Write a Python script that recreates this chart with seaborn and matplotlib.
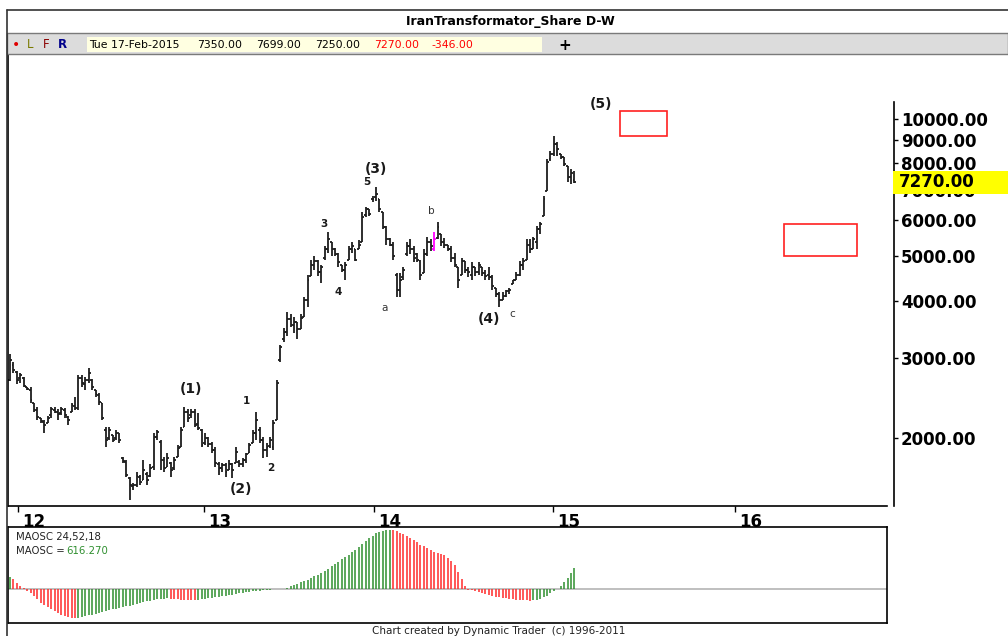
import matplotlib
matplotlib.use("Agg")
import matplotlib.pyplot as plt
import matplotlib.transforms as mtransforms
from matplotlib.lines import Line2D
from matplotlib.patches import Rectangle
from matplotlib.ticker import FixedLocator, NullLocator
import numpy as np
import seaborn as sns

# weekly OHLC bars, oldest first; the last one is Tue 17-Feb-2015
bar_open = [
    2680, 2890, 2790, 2710, 2710, 2590, 2550, 2390, 2300, 2210,
    2170, 2160, 2240, 2300, 2280, 2270, 2300, 2220, 2280, 2350,
    2330, 2710, 2630, 2680, 2680, 2550, 2490, 2390, 2080, 2000,
    2030, 2000, 2050, 1810, 1770, 1630, 1570, 1580, 1640, 1620,
    1670, 1650, 1730, 2010, 1960, 1790, 1730, 1760, 1720, 1820,
    1910, 2110, 2280, 2240, 2280, 2150, 2080, 1950, 2000, 1940,
    1880, 1750, 1720, 1740, 1700, 1750, 1760, 1770, 1750, 1790,
    1850, 1950, 2050, 2080, 1980, 1880, 1920, 1910, 2190, 2970,
    3290, 3420, 3640, 3540, 3600, 3460, 3690, 4020, 4520, 4800,
    4880, 4630, 4970, 5180, 5370, 5180, 5050, 4800, 4680, 4920,
    5180, 5180, 5180, 5370, 6180, 6340, 6670, 6740, 6670, 6250,
    5790, 5450, 5310, 4560, 4230, 4500, 5050, 5260, 5180, 5050,
    4880, 4610, 5050, 5390, 5180, 5500, 5590, 5370, 5310, 5180,
    4970, 4730, 4560, 4880, 4680, 4560, 4730, 4630, 4730, 4590,
    4560, 4500, 4270, 4130, 4020, 4100, 4190, 4340, 4450, 4560,
    4800, 4920, 5310, 5180, 5390, 5730, 6120, 6950, 8170, 8380,
    8810, 8380, 8250, 7880, 7460, 7350,
]
bar_high = [
    3050, 2940, 2800, 2780, 2720, 2590, 2580, 2390, 2340, 2210,
    2190, 2230, 2340, 2340, 2310, 2340, 2330, 2230, 2390, 2460,
    2750, 2750, 2720, 2840, 2690, 2550, 2510, 2390, 2110, 2110,
    2030, 2080, 2050, 1820, 1790, 1640, 1590, 1680, 1660, 1790,
    1680, 1750, 2050, 2080, 1980, 1820, 1850, 1770, 1820, 1930,
    2110, 2340, 2310, 2310, 2310, 2270, 2090, 2050, 2010, 1960,
    1910, 1770, 1760, 1760, 1790, 1760, 1910, 1790, 1810, 1850,
    1950, 2080, 2280, 2110, 2010, 1950, 2010, 2190, 2680, 3200,
    3490, 3770, 3730, 3690, 3600, 3730, 4080, 4560, 4920, 5000,
    4920, 4800, 5260, 5670, 5370, 5230, 5100, 4800, 4850, 5260,
    5370, 5180, 5420, 6250, 6410, 6340, 6770, 7090, 6670, 6250,
    5820, 5500, 5370, 4610, 4610, 4750, 5370, 5450, 5260, 5100,
    4920, 5180, 5530, 5450, 5670, 5940, 5590, 5500, 5310, 5260,
    5100, 4750, 4970, 4880, 4750, 4850, 4750, 4850, 4730, 4680,
    4750, 4560, 4270, 4170, 4170, 4230, 4270, 4450, 4630, 4880,
    4970, 5450, 5450, 5530, 5820, 5940, 6770, 8170, 8510, 9180,
    8900, 8380, 8250, 7880, 7770, 7699,
]
bar_low = [
    2660, 2780, 2620, 2640, 2590, 2550, 2390, 2280, 2190, 2160,
    2050, 2160, 2210, 2270, 2190, 2250, 2210, 2140, 2280, 2300,
    2300, 2590, 2550, 2640, 2550, 2460, 2360, 2190, 1910, 1980,
    1960, 1980, 1950, 1760, 1640, 1460, 1540, 1560, 1580, 1620,
    1580, 1640, 1700, 1980, 1700, 1680, 1730, 1640, 1700, 1820,
    1910, 2110, 2170, 2210, 2110, 2080, 1910, 1930, 1910, 1850,
    1730, 1660, 1680, 1640, 1700, 1630, 1760, 1730, 1730, 1760,
    1850, 1950, 1980, 1950, 1810, 1820, 1900, 1880, 2190, 2940,
    3250, 3340, 3510, 3400, 3290, 3460, 3690, 3880, 4520, 4680,
    4520, 4380, 4920, 5100, 5000, 5000, 4750, 4630, 4450, 4920,
    5100, 4880, 5180, 5370, 6090, 6120, 6570, 6600, 6250, 5730,
    5310, 5260, 4920, 4080, 4080, 4450, 5000, 5050, 4850, 4850,
    4450, 4610, 5000, 5130, 5130, 5450, 5260, 5230, 5130, 4850,
    4730, 4270, 4560, 4610, 4500, 4450, 4520, 4560, 4520, 4450,
    4450, 4230, 4080, 3880, 4020, 4080, 4130, 4340, 4450, 4520,
    4680, 4920, 5100, 5180, 5180, 5590, 6120, 6950, 8090, 8290,
    8290, 8170, 7880, 7270, 7200, 7250,
]
bar_close = [
    2970, 2820, 2680, 2750, 2600, 2560, 2420, 2300, 2220, 2180,
    2140, 2210, 2320, 2280, 2260, 2320, 2240, 2190, 2360, 2330,
    2710, 2640, 2680, 2770, 2580, 2500, 2400, 2210, 1980, 2080,
    1980, 2050, 1980, 1780, 1660, 1580, 1580, 1650, 1600, 1700,
    1620, 1720, 2010, 2060, 1790, 1720, 1810, 1700, 1790, 1900,
    2080, 2280, 2210, 2280, 2140, 2100, 1930, 2000, 1940, 1880,
    1760, 1720, 1740, 1680, 1750, 1700, 1860, 1750, 1790, 1840,
    1930, 2050, 2190, 1980, 1880, 1910, 1980, 2160, 2640, 3160,
    3420, 3640, 3540, 3600, 3460, 3670, 4020, 4450, 4800, 4880,
    4630, 4730, 5180, 5450, 5180, 5050, 4850, 4680, 4800, 5180,
    5260, 4920, 5310, 6090, 6340, 6210, 6700, 6840, 6340, 5790,
    5450, 5310, 5000, 4230, 4450, 4680, 5260, 5180, 4970, 4920,
    4560, 5050, 5390, 5260, 5450, 5790, 5370, 5310, 5180, 4970,
    4800, 4450, 4880, 4680, 4630, 4730, 4630, 4780, 4590, 4540,
    4500, 4300, 4130, 4020, 4100, 4190, 4230, 4430, 4560, 4800,
    4880, 5310, 5180, 5450, 5730, 5880, 6670, 8040, 8380, 8810,
    8590, 8250, 7960, 7460, 7616, 7270,
]
highlight_bar = 124

# MAOSC 24,52,18 histogram, one value per bar
maosc = [
    342, 283, 186, 88, 20, -49, -127, -205, -303, -400,
    -469, -537, -596, -655, -713, -762, -801, -830, -850, -860,
    -840, -821, -791, -772, -752, -733, -713, -684, -655, -625,
    -596, -576, -547, -528, -508, -489, -469, -440, -410, -381,
    -361, -342, -322, -303, -293, -283, -274, -283, -293, -303,
    -313, -322, -322, -332, -332, -322, -303, -283, -264, -254,
    -234, -225, -205, -195, -176, -166, -147, -127, -107, -98,
    -88, -68, -59, -49, -39, -29, -20, -10, -5, 0,
    10, 39, 78, 117, 156, 195, 234, 273, 322, 371,
    420, 479, 537, 596, 664, 733, 801, 870, 938, 1006,
    1075, 1153, 1231, 1309, 1397, 1485, 1563, 1632, 1680, 1710,
    1729, 1739, 1720, 1690, 1641, 1602, 1553, 1505, 1446, 1378,
    1299, 1251, 1192, 1143, 1094, 1065, 1036, 987, 918, 821,
    703, 508, 283, 88, -20, -39, -59, -78, -107, -137,
    -166, -195, -225, -244, -264, -274, -293, -303, -313, -322,
    -332, -332, -342, -332, -322, -293, -244, -195, -127, -49,
    10, 88, 205, 332, 459, 616.27,
]

year_labels = ["12", "13", "14", "15", "16"]
year_start_bar = [2.3, 56.7, 106.4, 158.8, 212.0]
price_ticks = [2000, 3000, 4000, 5000, 6000, 7000, 8000, 9000, 10000]

# Elliott wave labels: text, bar position, price, major?
wave_text = ["(1)", "(2)", "(3)", "(4)", "(5)", "1", "2", "3", "4", "5", "a", "b", "c"]
wave_bar = [52.9, 67.5, 107.0, 140.0, 172.8, 69.0, 76.3, 91.8, 95.9, 104.4, 109.6, 123.1, 146.8]
wave_price = [2565, 1546, 7765, 3653, 10790, 2412, 1718, 5878, 4188, 7270, 3862, 6279, 3746]
wave_major = [True] * 5 + [False] * 8

# target zones (bar from, bar to, price low, price high)
zone_bar_from = [178.4, 226.3]
zone_bar_to = [192.1, 247.7]
zone_low = [9200, 5000]
zone_high = [10400, 5900]

sns.set_theme(style="white", rc={
    "axes.edgecolor": "black", "text.color": "black",
    "xtick.color": "black", "ytick.color": "black",
    "axes.linewidth": 1.2,
})
plt.rcParams["font.family"] = ["DejaVu Sans"]

W, H = 1008, 636
fig = plt.figure(figsize=(W / 100, H / 100), dpi=100)


def box(left, top, right, bottom):
    return [left / W, 1 - bottom / H, (right - left) / W, (bottom - top) / H]


def fx(x):
    return x / W


def fy(y):
    return 1 - y / H


ax = fig.add_axes(box(8, 54, 887, 506))
osc = fig.add_axes(box(8, 527, 887, 623))

x = np.arange(len(bar_close))
bar_colors = ["#ff00ff" if i == highlight_bar else "#1e1e1e" for i in x]
ax.vlines(x, bar_low, bar_high, colors=bar_colors, lw=1.3)
ax.hlines(bar_open, x - 0.55, x, colors=bar_colors, lw=1.3)
ax.hlines(bar_close, x, x + 0.55, colors=bar_colors, lw=1.3)

ax.set_yscale("log")
ax.set_ylim(1418, 13900)
ax.set_xlim(-0.6, 256.4)

for lo_bar, hi_bar, lo, hi in zip(zone_bar_from, zone_bar_to, zone_low, zone_high):
    ax.add_patch(Rectangle((lo_bar, lo), hi_bar - lo_bar, hi - lo,
                           fill=False, edgecolor="#ff2020", lw=1.2))

for txt, b, p, major in zip(wave_text, wave_bar, wave_price, wave_major):
    if major:
        ax.text(b, p, txt, ha="center", va="center", fontsize=10,
                fontweight="bold", color="#1a1a1a")
    elif txt in ("a", "b", "c"):
        ax.text(b, p, txt, ha="center", va="center", fontsize=7.5,
                color="#333333")
    else:
        ax.text(b, p, txt, ha="center", va="center", fontsize=7.5,
                fontweight="bold", color="#1a1a1a")

# spines first: moving a spine resets the ticks
ax.spines["right"].set_position(("outward", 5))
ax.spines["right"].set_bounds(1418, 10900)
ax.spines["top"].set_visible(False)

# price axis on the right
ax.yaxis.tick_right()
ax.yaxis.set_major_locator(FixedLocator(price_ticks))
ax.yaxis.set_minor_locator(NullLocator())
ax.tick_params(axis="y", right=True, direction="out", length=3, width=1,
               pad=2, labelsize=12)
ax.set_yticklabels([f"{p:.2f}" for p in price_ticks], fontweight="bold")

# year axis
ax.set_xticks(year_start_bar)
ax.tick_params(axis="x", bottom=True, direction="out", length=4, width=1,
               pad=1, labelsize=12)
ax.set_xticklabels(year_labels, fontweight="bold", ha="left")
shift = mtransforms.ScaledTranslation(3 / 72, 0, fig.dpi_scale_trans)
for lbl in ax.get_xticklabels():
    lbl.set_transform(lbl.get_transform() + shift)

# last price tag
last = bar_close[-1]
tag = mtransforms.blended_transform_factory(fig.transFigure, ax.transData)
ax.add_patch(Rectangle((fx(893), last / 1.06), 1 - fx(893), last * 1.06 - last / 1.06,
                       transform=tag, facecolor="#ffff00", edgecolor="none",
                       clip_on=False, zorder=9))
ax.text(fx(899), last, f"{last:.2f}", transform=tag, ha="left", va="center",
        fontsize=12, fontweight="bold", clip_on=False, zorder=10)

# oscillator panel
osc_colors = ["#2f8f2f" if i == 0 or maosc[i] > maosc[i - 1] else "#ff2a2a"
              for i in range(len(maosc))]
osc.axhline(0, color="#b4b4b4", lw=1.2, zorder=1)
osc.vlines(x, 0, maosc, colors=osc_colors, lw=1.1, zorder=2)
osc.set_xlim(ax.get_xlim())
osc.set_ylim(-996, 1817)
osc.set_xticks([])
osc.set_yticks([])
for s in osc.spines.values():
    s.set_visible(True)
    s.set_color("black")
osc.text((16 - 8) / 879, 0.895, "MAOSC 24,52,18", transform=osc.transAxes,
         fontsize=7.3, va="center", color="#222222")
osc.text((16 - 8) / 879, 0.75, "MAOSC =", transform=osc.transAxes,
         fontsize=7.3, va="center", color="#222222")
osc.text((66 - 8) / 879, 0.75, f"{maosc[-1]:.3f}", transform=osc.transAxes,
         fontsize=7.3, va="center", color="#2f8f2f")

# window chrome: frame, title, info bar, footer
fig.add_artist(Line2D([fx(7), 1], [fy(10), fy(10)], color="#333333", lw=1.2))
fig.add_artist(Line2D([fx(7), fx(7)], [fy(10), 0], color="#333333", lw=1.2))
fig.add_artist(Rectangle((fx(7), fy(54)), 1 - fx(7), fy(33) - fy(54),
                         facecolor="#dcdcdc", edgecolor="#7a7a7a", lw=1))
fig.add_artist(Rectangle((fx(87), fy(52)), fx(542) - fx(87), fy(37) - fy(52),
                         facecolor="#ffffe1", edgecolor="none"))
fig.text(fx(510), fy(22), "IranTransformator_Share D-W", ha="center",
         va="center", fontsize=9, fontweight="bold")

info_y = fy(45)
fig.text(fx(12), info_y, "\u2022", color="#e00000", fontsize=10, va="center")
fig.text(fx(27), info_y, "L", color="#7a7a00", fontsize=8.5, va="center")
fig.text(fx(43), info_y, "F", color="#8b0000", fontsize=8.5, va="center")
fig.text(fx(58), info_y, "R", color="#00008b", fontsize=8.5, va="center",
         fontweight="bold")
fig.text(fx(89), info_y, "Tue 17-Feb-2015", fontsize=7.8, va="center")
fig.text(fx(197), info_y, f"{bar_open[-1]:.2f}", fontsize=7.8, va="center")
fig.text(fx(256), info_y, f"{bar_high[-1]:.2f}", fontsize=7.8, va="center")
fig.text(fx(315), info_y, f"{bar_low[-1]:.2f}", fontsize=7.8, va="center")
fig.text(fx(374), info_y, f"{bar_close[-1]:.2f}", fontsize=7.8, va="center",
         color="#ff0000")
fig.text(fx(431), info_y, f"{bar_close[-1] - bar_close[-2]:.2f}", fontsize=7.8,
         va="center", color="#ff0000")
fig.text(fx(558), info_y, "+", fontsize=11, va="center", fontweight="bold")

fig.text(fx(372), fy(631), "Chart created by Dynamic Trader  (c) 1996-2011",
         fontsize=7.5, va="center", color="#222222")

fig.savefig("out.png", dpi=100)
